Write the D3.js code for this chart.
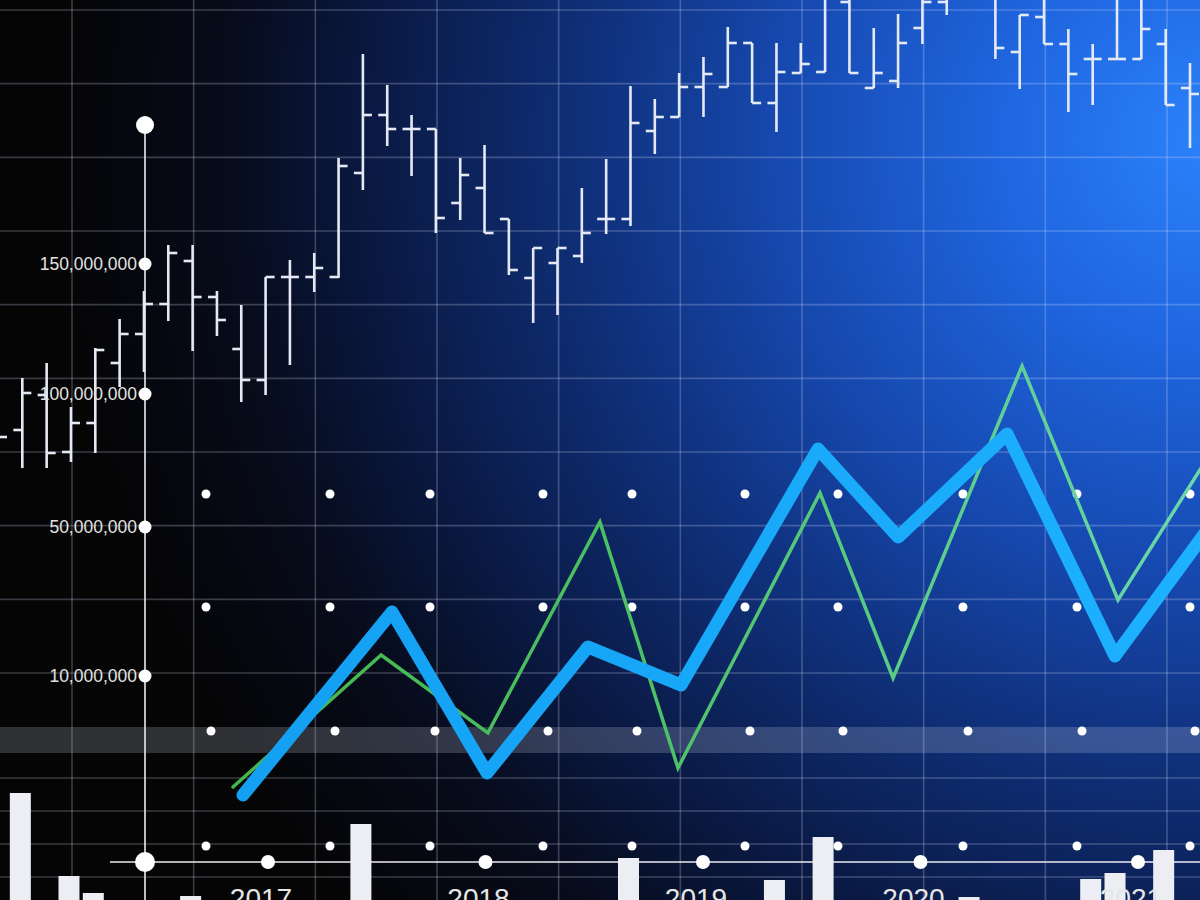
<!DOCTYPE html>
<html>
<head>
<meta charset="utf-8">
<script src="https://cdn.jsdelivr.net/npm/d3@7"></script>
<style>
  html, body { margin: 0; padding: 0; background: #000; }
  svg { display: block; }
</style>
</head>
<body>
<svg id="chart" width="1200" height="900"></svg>
<script>
// ---------------- DATA ----------------
// OHLC price bars (arbitrary price units)
const ohlcHigh  = [520,522,537,493,552,581,609,655,655,609,595,623,640,647,742,846,815,785,771,742,755,681,652,652,712,741,814,801,827,843,873,857,857,857,915,910,872,886,910,920,960,920,885,910,871,856,910,910,871,837];
const ohlcLow   = [430,432,432,438,447,513,528,579,549,564,498,505,535,608,622,710,754,724,667,680,667,625,577,585,637,666,674,746,783,783,813,797,768,827,828,827,812,812,856,885,905,841,811,856,788,795,841,841,795,752];
const ohlcOpen  = [480,470,505,448,477,537,566,596,639,603,551,520,623,623,623,727,785,771,771,697,712,681,622,637,644,681,681,769,783,813,813,857,797,827,828,898,812,819,872,898,910,910,848,883,856,841,841,841,856,812];
const ohlcClose = [463,507,447,477,550,566,596,647,603,580,520,623,623,632,734,785,771,771,682,725,667,630,652,652,667,681,777,783,813,826,857,797,828,836,908,827,827,857,898,908,940,852,885,856,826,841,841,871,795,806];
// Volume bars (same periods as OHLC bars)
const volume = [0,107,0,24,7,0,0,0,4,0,0,0,0,0,0,76,0,0,0,0,0,0,0,0,0,0,42,0,0,0,0,0,20,0,63,0,0,0,0,0,3,0,0,0,0,21,27,0,50,0];

// Y axis ticks
const yTickValues = [10000000, 50000000, 100000000, 150000000];
// X axis years
const years = [2017, 2018, 2019, 2020, 2021];

// Line series (time in decimal years, value as index 0-100)
const blueT  = [2016.885, 2017.570, 2018.007, 2018.471, 2018.899, 2019.529, 2019.897, 2020.398, 2020.894, 2021.423];
const blueV  = [5.0, 41.6, 9.4, 34.6, 27.0, 74.2, 56.6, 77.2, 32.8, 64.2];
const greenT = [2016.839, 2017.520, 2018.011, 2018.526, 2018.885, 2019.538, 2019.874, 2020.467, 2020.908, 2021.423];
const greenV = [6.6, 33.0, 17.4, 59.6, 10.4, 65.4, 28.4, 90.8, 44.0, 79.6];

// ---------------- LAYOUT ----------------
const W = 1200, H = 900;
const svg = d3.select("#chart");
const defs = svg.append("defs");

const bg = defs.append("radialGradient").attr("id", "bg")
  .attr("gradientUnits", "userSpaceOnUse")
  .attr("cx", 1210).attr("cy", 140).attr("r", 1150);
[[0, "#2b82fa"], [0.18, "#1f66e0"], [0.38, "#1648ae"], [0.55, "#0f2f78"], [0.72, "#0a1a45"], [0.86, "#070b1a"], [1, "#050506"]]
  .forEach(([o, c]) => bg.append("stop").attr("offset", o).attr("stop-color", c));

const gGreen = defs.append("linearGradient").attr("id", "gGreen")
  .attr("gradientUnits", "userSpaceOnUse").attr("x1", 200).attr("x2", 1200).attr("y1", 0).attr("y2", 0);
gGreen.append("stop").attr("offset", 0).attr("stop-color", "#43b54a");
gGreen.append("stop").attr("offset", 0.45).attr("stop-color", "#4cc266");
gGreen.append("stop").attr("offset", 1).attr("stop-color", "#6ad7ad");

const gBlue = defs.append("linearGradient").attr("id", "gBlue")
  .attr("gradientUnits", "userSpaceOnUse").attr("x1", 200).attr("x2", 1200).attr("y1", 0).attr("y2", 0);
gBlue.append("stop").attr("offset", 0).attr("stop-color", "#139ff2");
gBlue.append("stop").attr("offset", 1).attr("stop-color", "#1db1ff");

svg.append("rect").attr("width", W).attr("height", H).attr("fill", "url(#bg)");

// Grid
const grid = svg.append("g").attr("stroke", "rgba(225,232,255,0.24)").attr("stroke-width", 1.6);
const gridY = d3.scaleLinear().domain([0, 9]).range([10, 673]);
d3.range(10).forEach(i => grid.append("line").attr("x1", 0).attr("x2", W).attr("y1", gridY(i)).attr("y2", gridY(i)));
const gridY2 = d3.scaleLinear().domain([0, 3]).range([778, 877]);
d3.range(4).forEach(i => grid.append("line").attr("x1", 0).attr("x2", W).attr("y1", gridY2(i)).attr("y2", gridY2(i)));
const gridX = d3.scaleLinear().domain([0, 9]).range([72, 1167]);
d3.range(10).forEach(i => grid.append("line").attr("y1", 0).attr("y2", H).attr("x1", gridX(i)).attr("x2", gridX(i)));

// Gray band
svg.append("rect").attr("x", 0).attr("y", 727).attr("width", W).attr("height", 26)
  .attr("fill", "rgba(220,225,240,0.2)");

// OHLC bars
const xBar = d3.scaleLinear().domain([0, 49]).range([-2, 1190]);
const yPrice = d3.scaleLinear().domain([0, 900]).range([900, 0]);
const ohlc = svg.append("g").attr("stroke", "#e4e9f4").attr("stroke-width", 2.6).attr("fill", "none");
ohlcHigh.forEach((h, i) => {
  const x = xBar(i);
  ohlc.append("line").attr("x1", x).attr("x2", x).attr("y1", yPrice(h)).attr("y2", yPrice(ohlcLow[i]));
  ohlc.append("line").attr("x1", x - 9).attr("x2", x).attr("y1", yPrice(ohlcOpen[i])).attr("y2", yPrice(ohlcOpen[i]));
  ohlc.append("line").attr("x1", x).attr("x2", x + 9).attr("y1", yPrice(ohlcClose[i])).attr("y2", yPrice(ohlcClose[i]));
});

// Axes scales
const yAxis = d3.scaleLinear()
  .domain([0, 10000000, 50000000, 100000000, 150000000, 200000000])
  .range([862, 676, 527, 394, 264, 125]);
const xYear = d3.scaleLinear().domain([2017, 2021]).range([268, 1138]);
const axisX = 145;

// Axis lines
svg.append("line").attr("x1", axisX).attr("x2", axisX).attr("y1", yAxis(200000000)).attr("y2", H)
  .attr("stroke", "rgba(235,235,240,0.8)").attr("stroke-width", 2);
svg.append("line").attr("x1", 110).attr("x2", W).attr("y1", yAxis(0)).attr("y2", yAxis(0))
  .attr("stroke", "rgba(235,235,240,0.75)").attr("stroke-width", 2);

// Dot grid
const dotCols = [206, 330, 430, 543, 632, 745, 838, 963, 1077, 1190];
const dotRows = [494, 607, 731, 846];
const dots = svg.append("g").attr("fill", "#ffffff");
dotRows.forEach(ry => dotCols.forEach(cx => {
  dots.append("circle").attr("cx", cx + (ry === 731 ? 5 : 0)).attr("cy", ry).attr("r", 4.5);
}));

// Volume bars
const yVol = d3.scaleLinear().domain([0, 120]).range([900, 780]);
svg.append("g").selectAll("rect").data(volume).join("rect")
  .attr("x", (d, i) => xBar(i) - 2 - 10.5)
  .attr("y", d => yVol(d))
  .attr("width", 21)
  .attr("height", d => yVol(0) - yVol(d))
  .attr("fill", "#eceef4");

// Lines
const yIdx = d3.scaleLinear().domain([0, 100]).range([820, 320]);
const line = d3.line().x(d => xYear(d[0])).y(d => yIdx(d[1]));
svg.append("path").datum(greenT.map((t, i) => [t, greenV[i]]))
  .attr("d", line).attr("fill", "none").attr("stroke", "url(#gGreen)")
  .attr("stroke-width", 3.5).attr("stroke-linejoin", "miter").attr("stroke-linecap", "round");
svg.append("path").datum(blueT.map((t, i) => [t, blueV[i]]))
  .attr("d", line).attr("fill", "none").attr("stroke", "url(#gBlue)")
  .attr("stroke-width", 13).attr("stroke-linejoin", "round").attr("stroke-linecap", "round");

// Y axis dots + labels
svg.append("circle").attr("cx", axisX).attr("cy", yAxis(200000000)).attr("r", 9).attr("fill", "#fff");
svg.append("circle").attr("cx", axisX).attr("cy", yAxis(0)).attr("r", 10).attr("fill", "#fff");
const fmt = d3.format(",");
yTickValues.forEach(v => {
  svg.append("circle").attr("cx", axisX).attr("cy", yAxis(v)).attr("r", 6.5).attr("fill", "#fff");
  svg.append("text").attr("x", axisX - 8).attr("y", yAxis(v)).attr("dy", "0.36em")
    .attr("text-anchor", "end").attr("font-family", "Liberation Sans, Arial, sans-serif")
    .attr("font-size", 17.5).attr("fill", "#e2e2e2").text(fmt(v));
});

// X axis dots + labels
years.forEach(yr => {
  svg.append("circle").attr("cx", xYear(yr)).attr("cy", yAxis(0)).attr("r", 7).attr("fill", "#fff");
  svg.append("text").attr("x", xYear(yr) - 7).attr("y", 908)
    .attr("text-anchor", "middle").attr("font-family", "Liberation Sans, Arial, sans-serif")
    .attr("font-size", 28).attr("fill", "#e6e6e6").text(yr);
});
</script>
</body>
</html>
